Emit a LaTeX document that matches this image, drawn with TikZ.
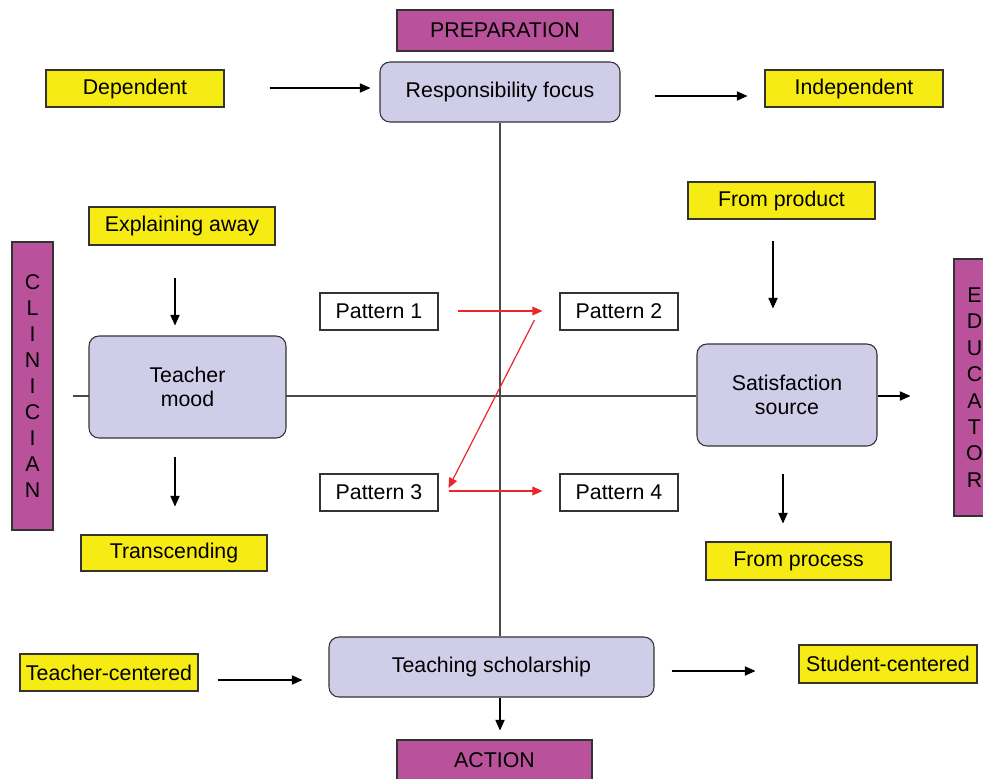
\documentclass[tikz,border=0pt]{standalone}
\usepackage{fontspec}
\setmainfont{Liberation Sans}
\usetikzlibrary{arrows.meta,calc}
\definecolor{mag}{HTML}{B9529B}
\definecolor{yel}{HTML}{F6EC13}
\definecolor{lav}{HTML}{CFCDE8}
\definecolor{axis}{HTML}{4A4A4A}
\definecolor{redarr}{HTML}{E8262D}
\pgfdeclarelayer{bg}
\pgfsetlayers{bg,main}
\tikzset{
  base/.style={draw=black!80, line width=0.8pt, inner sep=0pt, align=center,
    font=\fontsize{16}{18.5}\selectfont},
  magbox/.style={base, fill=mag},
  yelbox/.style={base, fill=yel, minimum width=133.5pt, minimum height=27.75pt},
  lavbox/.style={base, fill=lav, rounded corners=7.5pt},
  patbox/.style={base, fill=white, minimum width=88.5pt, minimum height=27.75pt},
  vert/.style={magbox, minimum width=30.75pt, font=\fontsize{16}{19.5}\selectfont},
  arr/.style={line width=0.8pt, -{Triangle[length=8pt,width=7pt]}},
  rarr/.style={draw=redarr, line width=0.9pt, -{Triangle[length=7.5pt,width=6.5pt]}},
  axisline/.style={draw=axis, line width=0.9pt}
}
\begin{document}
\begin{tikzpicture}[x=0.75pt, y=-0.75pt]
\useasboundingbox (0,0) rectangle (983,779);
% nodes
\node[magbox, minimum width=162pt, minimum height=30.75pt] (prep) at (505,30.5) {PREPARATION};
\node[lavbox, minimum width=180pt, minimum height=45pt] (resp) at (500,92) {Responsibility focus};
\node[yelbox] (dep) at (135,88.5) {Dependent};
\node[yelbox] (ind) at (854,88.5) {Independent};
\node[yelbox, minimum width=140.25pt] (prod) at (781.5,200.5) {From product};
\node[yelbox, minimum width=139.5pt, minimum height=28.5pt] (expl) at (182,226) {Explaining away};
\node[vert, minimum height=216pt] (clin) at (32.5,386) {C\\L\\I\\N\\I\\C\\I\\A\\N};
\node[vert, minimum height=192.75pt, font=\fontsize{16}{19.8}\selectfont] (edu) at (974.5,387.5) {E\\D\\U\\C\\A\\T\\O\\R};
\node[lavbox, minimum width=147.75pt, minimum height=76.5pt] (tm) at (187.5,387) {Teacher\\mood};
\node[lavbox, minimum width=135pt, minimum height=76.5pt] (sat) at (787,395) {Satisfaction\\source};
\node[patbox] (p1) at (379,311.5) {Pattern 1};
\node[patbox] (p2) at (619,311.5) {Pattern 2};
\node[patbox] (p3) at (379,492.5) {Pattern 3};
\node[patbox] (p4) at (619,492.5) {Pattern 4};
\node[yelbox, minimum width=139.5pt, minimum height=27pt] (trans) at (174,553) {Transcending};
\node[yelbox, minimum width=138.75pt, minimum height=28.5pt] (proc) at (798.5,561) {From process};
\node[lavbox, minimum width=243.75pt, minimum height=45pt] (ts) at (491.5,667) {Teaching scholarship};
\node[yelbox] (tc) at (109,672.5) {Teacher-centered};
\node[yelbox, minimum height=28.5pt] (sc) at (888,664) {Student-centered};
\node[magbox, minimum width=146.25pt, minimum height=30.75pt] (act) at (494.5,760.5) {ACTION};
% axes
\begin{pgfonlayer}{bg}
\draw[axisline] (resp.south) -- (resp.south |- ts.north);
\draw[axisline] ($(clin.east)+(19,10)$) -- ($(clin.east -| sat.west)+(0,10)$);
\end{pgfonlayer}
\draw[arr] (resp.south |- ts.south) -- ($(resp.south |- act.north)+(0,-9)$);
\draw[arr] ($(sat.east)+(0,1)$) -- ($(sat.east -| edu.west)+(-43,1)$);
% black arrows
\draw[arr] ($(dep.east)+(45,-0.5)$) -- ($(dep.east -| resp.west)+(-9,-0.5)$);
\draw[arr] ($(resp.east)+(34,4)$) -- ($(resp.east -| ind.west)+(-17,4)$);
\draw[arr] ($(prod.south)+(-8.5,21)$) -- ($(prod.south |- sat.north)+(-8.5,-35)$);
\draw[arr] ($(expl.south)+(-7,32)$) -- ($(expl.south |- tm.north)+(-7,-10)$);
\draw[arr] ($(trans.north |- tm.south)+(1,18)$) -- ($(trans.north)+(1,-28)$);
\draw[arr] ($(sat.south)+(-4,27)$) -- ($(sat.south |- proc.north)+(-4,-18)$);
\draw[arr] ($(tc.east)+(19,7.5)$) -- ($(tc.east -| ts.west)+(-26,7.5)$);
\draw[arr] ($(ts.east)+(17,4)$) -- ($(ts.east -| sc.west)+(-43,4)$);
% red arrows
\draw[rarr] ($(p1.east)+(19,-0.5)$) -- ($(p2.west)+(-17,-0.5)$);
\draw[rarr] ($(p2.west)+(-25,8.5)$) -- ($(p3.east)+(10,-4.5)$);
\draw[rarr] ($(p3.east)+(10,-1.5)$) -- ($(p4.west)+(-17,-1.5)$);
\end{tikzpicture}
\end{document}
